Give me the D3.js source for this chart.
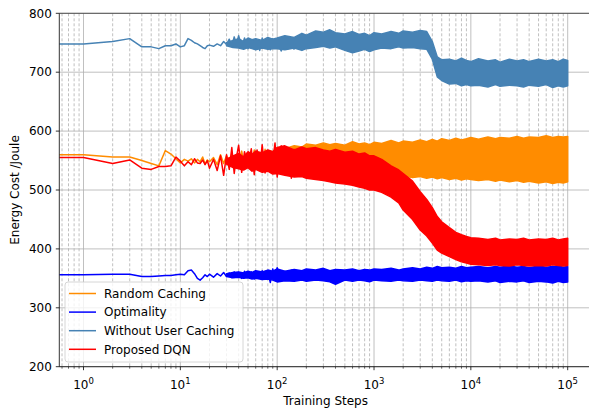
<!DOCTYPE html>
<html>
<head>
<meta charset="utf-8">
<script src="https://cdnjs.cloudflare.com/ajax/libs/d3/7.8.5/d3.min.js"></script>
<style>
body { margin: 0; background: #fff; }
text { font-family: "DejaVu Sans", sans-serif; fill: #000; }
</style>
</head>
<body>
<svg id="canvas" width="589" height="412"></svg>
<script>
// series in legend / drawing order
var seriesNames = ["Random Caching", "Optimality", "Without User Caching", "Proposed DQN"];
var colors = ["#ff8c00", "#0000ff", "#4682b4", "#ff0000"];

// early training steps, drawn as plain lines (step 0 sits on the left edge)
var earlySteps = [0, 1, 2, 3, 4, 5, 6, 7, 8, 9, 10, 11, 12, 13, 14, 15, 16, 17, 18, 19, 20,
  22, 24, 26, 28, 30, 32, 34, 36, 38, 40, 43, 46, 50, 54, 58, 62, 66, 70, 75, 80, 85, 90, 95,
  100, 110, 120, 130, 140, 150];

var randomEarly = [560, 560, 556, 556, 550, 545, 541, 567, 561, 553, 546, 552, 549, 553, 546, 552, 548, 556, 544, 551, 548,
  555, 543, 560, 545, 558, 540, 563, 546, 557, 541, 566, 538, 560, 544, 568, 537, 561, 540, 569, 535, 564, 542, 571,
  533, 566, 538, 572, 532, 568];
var optimalEarly = [356, 356, 357, 357, 353, 353, 354, 355, 355, 356, 357, 356, 363, 364, 358, 350, 347, 351, 356, 353, 357,
  352, 358, 354, 360, 353, 359, 351, 361, 354, 360, 350, 362, 352, 361, 349, 360, 352, 363, 349, 360, 343, 366, 348,
  368, 345, 362, 348, 364, 347];
var noUserEarly = [748, 748, 752, 757, 743, 743, 740, 745, 745, 748, 743, 745, 757, 754, 750, 748, 745, 742, 740, 745, 746,
  744, 748, 745, 752, 747, 756, 744, 760, 748, 762, 743, 758, 740, 755, 745, 752, 737, 758, 742, 755, 738, 757, 741,
  753, 736, 756, 740, 752, 738];
var dqnEarly = [555, 555, 545, 551, 537, 535, 540, 540, 541, 556, 549, 541, 548, 543, 553, 546, 545, 551, 543, 550, 537,
  552, 533, 558, 525, 560, 535, 572, 528, 556, 576, 530, 565, 540, 570, 526, 568, 535, 577, 529, 562, 540, 548, 580,
  522, 575, 530, 566, 520, 570];

// later steps: the curves are too dense to follow, so their upper / lower envelopes are kept
var bandSteps = [30, 35, 40, 45, 50, 55, 60, 70, 80, 90,
  100, 120, 150, 180, 200, 250, 300, 350, 400, 500, 600, 700, 800, 900, 1000, 1200, 1500, 1800, 2000,
  2500, 3000, 3500, 4000, 4500, 5000, 6000, 7000, 8000, 9000, 10000, 12000, 15000, 18000, 20000, 25000, 30000,
  35000, 40000, 50000, 60000, 70000, 80000, 90000, 100000];

var randomHi = [553, 557, 560, 556, 562, 559, 565, 562, 567, 565,
  572, 570, 575, 573, 578, 576, 580, 577, 579, 576, 582, 578, 580, 577, 581, 579, 584, 580, 583,
  581, 585, 582, 586, 583, 587, 584, 588, 585, 587, 589, 586, 590, 587, 589, 588, 591, 588, 590, 589, 592, 589, 591, 590, 591];
var randomLo = [547, 543, 541, 538, 540, 537, 538, 534, 536, 533,
  532, 530, 528, 529, 527, 526, 528, 527, 529, 526, 527, 525, 527, 524, 526, 523, 525, 522, 524,
  521, 523, 520, 522, 519, 521, 518, 520, 517, 519, 518, 516, 518, 515, 517, 514, 516, 513, 515, 512, 514, 511, 513, 512, 514];
var optimalHi = [358, 360, 361, 359, 362, 360, 363, 361, 364, 362,
  366, 362, 365, 363, 366, 364, 367, 363, 365, 364, 366, 363, 365, 364, 366, 365, 367, 364, 366,
  368, 366, 369, 367, 370, 368, 369, 367, 370, 368, 369, 370, 368, 370, 369, 371, 369, 370, 368, 371, 369, 370, 371, 369, 370];
var optimalLo = [353, 351, 352, 350, 351, 349, 350, 348, 349, 347,
  344, 346, 345, 347, 345, 347, 346, 344, 340, 347, 345, 347, 346, 344, 347, 346, 345, 347, 346,
  345, 347, 346, 345, 347, 346, 345, 347, 344, 346, 345, 346, 344, 346, 343, 345, 344, 346, 343, 345, 344, 342, 345, 343, 344];
var noUserHi = [750, 754, 757, 752, 758, 755, 757, 754, 759, 756,
  758, 762, 759, 766, 763, 770, 768, 772, 767, 765, 769, 764, 766, 762, 767, 765, 769, 766, 770,
  768, 771, 769, 752, 726, 721, 722, 719, 724, 720, 718, 723, 719, 721, 717, 722, 719, 721, 718, 722, 719, 721, 718, 722, 720];
var noUserLo = [745, 742, 741, 739, 742, 740, 738, 741, 739, 740,
  740, 738, 741, 737, 740, 742, 744, 741, 743, 737, 733, 736, 739, 735, 738, 741, 740, 743, 741,
  742, 740, 739, 722, 692, 686, 680, 681, 677, 679, 677, 678, 675, 679, 676, 678, 677, 675, 678, 676, 679, 674, 677, 675, 677];
var dqnHi = [552, 558, 562, 556, 565, 560, 566, 563, 568, 565,
  572, 575, 568, 573, 570, 572, 568, 566, 569, 564, 566, 561, 563, 558, 558, 552, 541, 534, 528,
  515, 497, 484, 470, 455, 446, 436, 428, 424, 421, 419, 418, 416, 418, 415, 417, 416, 418, 415, 417, 416, 418, 415, 417, 418];
var dqnLo = [544, 538, 536, 534, 538, 532, 535, 530, 532, 527,
  528, 525, 522, 523, 520, 518, 516, 514, 512, 510, 508, 505, 503, 500, 500, 496, 488, 478, 466,
  450, 432, 422, 410, 398, 393, 387, 382, 378, 376, 374, 373, 372, 373, 372, 371, 373, 372, 371, 372, 371, 373, 372, 371, 372];

var yTicks = [200, 300, 400, 500, 600, 700, 800];
var xMajor = [1, 10, 100, 1000, 10000, 100000];
var xExponents = ["0", "1", "2", "3", "4", "5"];

var earlyValues = [randomEarly, optimalEarly, noUserEarly, dqnEarly];
var bandHi = [randomHi, optimalHi, noUserHi, dqnHi];
var bandLo = [randomLo, optimalLo, noUserLo, dqnLo];

var svg = d3.select("#canvas"),
  pLeft = 59.3, pRight = 591.9, pTop = 13.3, pBottom = 366.7;

var x = d3.scaleLog()
  .domain([Math.pow(10, -0.25), Math.pow(10, 5.25)])
  .range([pLeft, pRight]);
var y = d3.scaleLinear()
  .domain([200, 800])
  .range([pBottom, pTop]);

// log scale cannot show step 0, clip it to the left edge like matplotlib does
function xs(step) { return x(Math.max(step, x.domain()[0])); }

var xMinor = [];
[0.1, 1, 10, 100, 1000, 10000].forEach(function(d) {
  for (var k = 2; k <= 9; k++) {
    var v = k * d;
    if (v > x.domain()[0] && v < x.domain()[1]) xMinor.push(v);
  }
});

svg.append("defs").append("clipPath").attr("id", "plot")
  .append("rect").attr("x", pLeft).attr("y", pTop)
  .attr("width", pRight - pLeft).attr("height", pBottom - pTop);

// grid
var grid = svg.append("g");
grid.selectAll(".minor").data(xMinor).enter().append("line")
  .attr("x1", function(d) { return x(d); }).attr("x2", function(d) { return x(d); })
  .attr("y1", pTop).attr("y2", pBottom)
  .attr("stroke", "#b0b0b0").attr("stroke-width", 0.8).attr("stroke-dasharray", "3,2");
grid.selectAll(".major").data(xMajor).enter().append("line")
  .attr("x1", function(d) { return x(d); }).attr("x2", function(d) { return x(d); })
  .attr("y1", pTop).attr("y2", pBottom)
  .attr("stroke", "#b0b0b0").attr("stroke-width", 0.8);
grid.selectAll(".hline").data(yTicks).enter().append("line")
  .attr("x1", pLeft).attr("x2", pRight)
  .attr("y1", function(d) { return y(d); }).attr("y2", function(d) { return y(d); })
  .attr("stroke", "#b0b0b0").attr("stroke-width", 0.8);

// data
var plot = svg.append("g").attr("clip-path", "url(#plot)");

var line = d3.line()
  .x(function(d) { return xs(d[0]); })
  .y(function(d) { return y(d[1]); });

var area = d3.area()
  .x(function(d) { return xs(d[0]); })
  .y0(function(d) { return y(d[1]); })
  .y1(function(d) { return y(d[2]); });

seriesNames.forEach(function(name, i) {
  var early = earlySteps.map(function(s, j) { return [s, earlyValues[i][j]]; });
  var band = bandSteps.map(function(s, j) { return [s, bandLo[i][j], bandHi[i][j]]; });

  plot.append("path")
    .attr("d", line(early))
    .attr("fill", "none")
    .attr("stroke", colors[i])
    .attr("stroke-width", 1.5)
    .attr("stroke-linejoin", "round");

  plot.append("path")
    .attr("d", area(band))
    .attr("fill", colors[i])
    .attr("stroke", colors[i])
    .attr("stroke-width", 1.5)
    .attr("stroke-linejoin", "round");
});

// spines (the right one falls just outside the picture)
svg.append("line").attr("x1", pLeft).attr("x2", pLeft).attr("y1", pTop).attr("y2", pBottom)
  .attr("stroke", "#000").attr("stroke-width", 0.8);
svg.append("line").attr("x1", pLeft).attr("x2", pRight).attr("y1", pBottom).attr("y2", pBottom)
  .attr("stroke", "#000").attr("stroke-width", 0.8);
svg.append("line").attr("x1", pLeft).attr("x2", pRight).attr("y1", pTop).attr("y2", pTop)
  .attr("stroke", "#333").attr("stroke-width", 0.8);

// y axis ticks
var yAxis = svg.append("g");
yAxis.selectAll("line").data(yTicks).enter().append("line")
  .attr("x1", pLeft - 3.5).attr("x2", pLeft)
  .attr("y1", function(d) { return y(d); }).attr("y2", function(d) { return y(d); })
  .attr("stroke", "#000").attr("stroke-width", 0.8);
yAxis.selectAll("text").data(yTicks).enter().append("text")
  .attr("x", pLeft - 7.5)
  .attr("y", function(d) { return y(d); })
  .attr("dy", "0.35em")
  .attr("text-anchor", "end")
  .attr("font-size", 12)
  .text(function(d) { return d; });

// x axis ticks
var xAxis = svg.append("g");
xAxis.selectAll(".mt").data(xMinor).enter().append("line")
  .attr("x1", function(d) { return x(d); }).attr("x2", function(d) { return x(d); })
  .attr("y1", pBottom).attr("y2", pBottom + 2)
  .attr("stroke", "#000").attr("stroke-width", 0.6);
xAxis.selectAll(".Mt").data(xMajor).enter().append("line")
  .attr("x1", function(d) { return x(d); }).attr("x2", function(d) { return x(d); })
  .attr("y1", pBottom).attr("y2", pBottom + 3.5)
  .attr("stroke", "#000").attr("stroke-width", 0.8);
var xl = xAxis.selectAll("text").data(xMajor).enter().append("text")
  .attr("x", function(d) { return x(d); })
  .attr("y", 389)
  .attr("text-anchor", "middle")
  .attr("font-size", 12);
xl.append("tspan").text("10");
xl.append("tspan")
  .attr("dy", -5)
  .attr("font-size", 8.5)
  .text(function(d, i) { return xExponents[i]; });

// axis titles
svg.append("text")
  .attr("x", (pLeft + pRight) / 2)
  .attr("y", 405)
  .attr("text-anchor", "middle")
  .attr("font-size", 12)
  .text("Training Steps");
svg.append("text")
  .attr("transform", "translate(19," + (pTop + pBottom) / 2 + ") rotate(-90)")
  .attr("text-anchor", "middle")
  .attr("font-size", 12)
  .text("Energy Cost /Joule");

// legend
var legend = svg.append("g");
legend.append("rect")
  .attr("x", 65).attr("y", 282).attr("width", 178).attr("height", 80)
  .attr("rx", 3)
  .attr("fill", "#fff").attr("fill-opacity", 0.8)
  .attr("stroke", "#cccccc").attr("stroke-width", 0.8);
var item = legend.selectAll(".item").data(seriesNames).enter().append("g")
  .attr("transform", function(d, i) { return "translate(0," + (293.5 + i * 18.6) + ")"; });
item.append("line")
  .attr("x1", 69).attr("x2", 96)
  .attr("stroke", function(d, i) { return colors[i]; })
  .attr("stroke-width", 1.5);
item.append("text")
  .attr("x", 104)
  .attr("dy", "0.35em")
  .attr("font-size", 12)
  .text(function(d) { return d; });
</script>
</body>
</html>
